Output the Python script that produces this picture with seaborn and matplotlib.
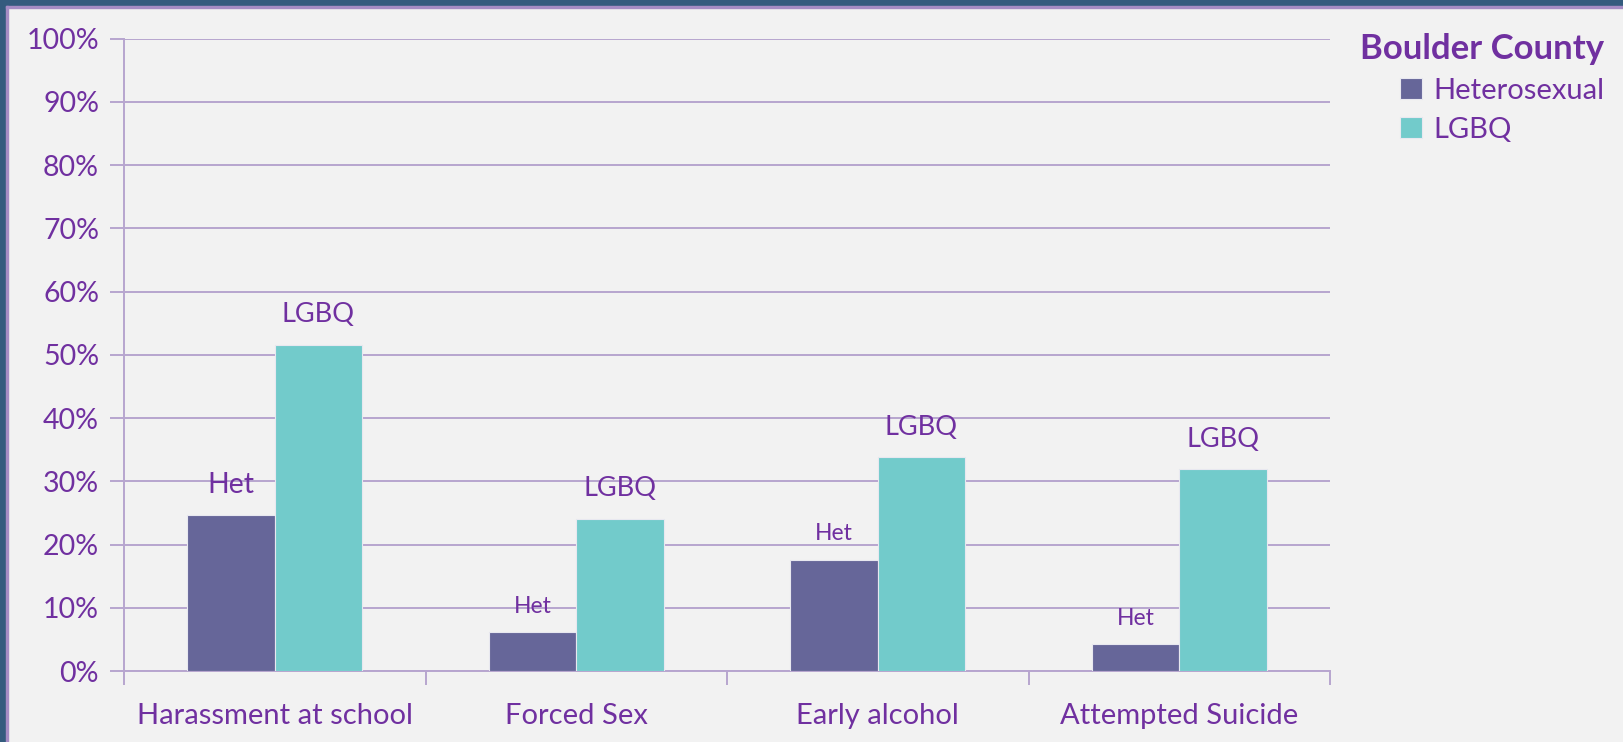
import pandas as pd
import seaborn as sns
import matplotlib.pyplot as plt
from matplotlib.patches import Rectangle
from matplotlib.ticker import PercentFormatter, FixedLocator

# values (percent)
categories = ['Harassment at school', 'Forced Sex', 'Early alcohol', 'Attempted Suicide']
het = [24.7, 6.1, 17.6, 4.2]
lgbq = [51.6, 24.1, 33.8, 31.9]
groups = ['Heterosexual', 'LGBQ']
bar_tags = ['Het', 'LGBQ']

purple = '#7030A0'
grid_col = '#B7A5CF'

df = pd.DataFrame({
    'Category': categories * 2,
    'Group': [groups[0]] * 4 + [groups[1]] * 4,
    'Value': het + lgbq,
})

sns.set_theme(style='white')
plt.rcParams['font.family'] = ['Lato', 'DejaVu Sans']

fig = plt.figure(figsize=(16.23, 7.42), dpi=100, facecolor='#F2F2F2')
ax = fig.add_axes([124 / 1623, 1 - 671 / 742, (1330 - 124) / 1623, (671 - 38.5) / 742])
ax.set_facecolor('#F2F2F2')

sns.barplot(data=df, x='Category', y='Value', hue='Group', hue_order=groups,
            palette=['#666699', '#72CBCB'], saturation=1, width=0.58, gap=0,
            edgecolor='#E8E8F0', linewidth=0.8, ax=ax, zorder=3)

ax.set_ylim(0, 100)
ax.set_xlim(-0.5, 3.5)
ax.yaxis.set_major_formatter(PercentFormatter(decimals=0))
ax.set_yticks(range(0, 101, 10))
ax.yaxis.grid(True, color=grid_col, linewidth=1.4, zorder=0)
ax.set_xlabel('')
ax.set_ylabel('')

# tick marks at category boundaries on the x axis
ax.xaxis.set_minor_locator(FixedLocator([-0.5, 0.5, 1.5, 2.5, 3.5]))
ax.tick_params(axis='x', which='major', length=0, pad=23, labelsize=21, labelcolor=purple)
ax.tick_params(axis='x', which='minor', length=10, width=1.4, color=grid_col, direction='out', bottom=True)
ax.tick_params(axis='y', length=10, width=1.4, color=grid_col, direction='out', left=True,
               labelsize=20.5, labelcolor=purple, pad=8)

for side in ['top', 'right']:
    ax.spines[side].set_visible(False)
for side in ['left', 'bottom']:
    ax.spines[side].set_color(grid_col)
    ax.spines[side].set_linewidth(1.4)

# bar tags above each bar
tag_sizes = [[20.5, 16.5, 16.5, 16.5], [19.5, 19.5, 19.5, 19.5]]
for gi, cont in enumerate(ax.containers):
    for ci, bar in enumerate(cont):
        big = tag_sizes[gi][ci] > 18
        ax.annotate(bar_tags[gi], (bar.get_x() + bar.get_width() / 2, bar.get_height()),
                    xytext=(0, 21.5 if big else 19), textcoords='offset points',
                    ha='center', va='center', fontsize=tag_sizes[gi][ci], color=purple)

leg = ax.legend(title='Boulder County', loc='upper right', bbox_to_anchor=(1619 / 1623, 1 - 18 / 742),
                bbox_transform=fig.transFigure, frameon=False, fontsize=21,
                title_fontproperties={'weight': 'bold', 'size': 25},
                handlelength=0.75, handleheight=0.75, handletextpad=0.4, labelspacing=0.45,
                borderpad=0, alignment='right')
leg.get_title().set_color(purple)
for t in leg.get_texts():
    t.set_color(purple)

# frame on the left and top edges
fig.patches.append(Rectangle((0, 0), 6 / 1623, 1, transform=fig.transFigure, color='#345B7E', zorder=0))
fig.patches.append(Rectangle((0, 1 - 6 / 742), 1, 6 / 742, transform=fig.transFigure, color='#345B7E', zorder=0))
fig.patches.append(Rectangle((6 / 1623, 0), 2 / 1623, 1 - 6 / 742, transform=fig.transFigure, color='#A58CC4', zorder=0))
fig.patches.append(Rectangle((6 / 1623, 1 - 8 / 742), 1, 2 / 742, transform=fig.transFigure, color='#A58CC4', zorder=0))

fig.savefig('out.png', dpi=100, facecolor=fig.get_facecolor())
